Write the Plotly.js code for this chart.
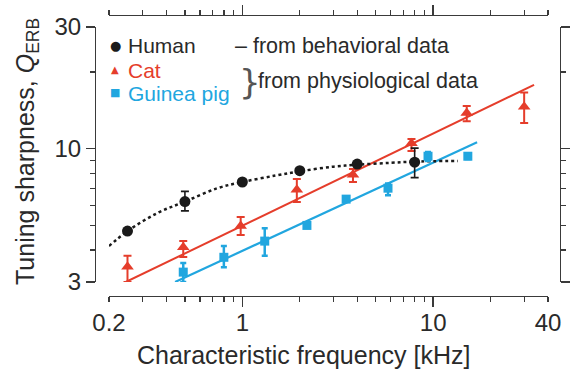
<!DOCTYPE html>
<html><head><meta charset="utf-8">
<script src="https://cdn.plot.ly/plotly-3.0.1.min.js"></script>
<style>html,body{margin:0;padding:0;background:#fff}#c{width:572px;height:373px}</style>
</head><body><div id="c"></div>
<script>
// ---- data ----
const humanF  = [0.25, 0.5, 1, 2, 4, 8];
const humanQ  = [4.75, 6.2, 7.4, 8.2, 8.7, 8.85];
const humanHi = [null, 6.8, null, null, null, 10.05];
const humanLo = [null, 5.7, null, null, null, 7.7];
const humanCurveF = [0.2, 0.25, 0.36, 0.5, 0.74, 1, 1.5, 2, 3, 4, 6, 8, 13.5];
const humanCurveQ = [4.15, 4.75, 5.6, 6.2, 7.0, 7.4, 7.85, 8.15, 8.5, 8.65, 8.8, 8.9, 8.95];

const catF  = [0.25, 0.49, 0.98, 1.93, 3.8, 7.7, 15, 30];
const catQ  = [3.44, 4.11, 4.97, 6.9, 7.9, 10.5, 13.8, 14.6];
const catHi = [3.8, 4.34, 5.4, 7.6, 8.33, 10.9, 14.7, 16.6];
const catLo = [3.0, 3.76, 4.59, 6.18, 7.4, 9.8, 12.8, 12.6];
const catFitF = [0.245, 33.8];
const catFitQ = [3.0, 17.8];

const gpF  = [0.49, 0.8, 1.31, 2.18, 3.5, 5.8, 9.4, 15.2];
const gpQ  = [3.28, 3.75, 4.34, 5.0, 6.34, 7.0, 9.34, 9.34];
const gpHi = [3.56, 4.15, 4.87, 5.12, 6.5, 7.3, 9.7, 9.6];
const gpLo = [3.0, 3.43, 3.8, 4.9, 6.2, 6.57, 8.95, 9.1];
const gpFitF = [0.444, 17];
const gpFitQ = [3.0, 10.6];

const xMajor = [0.2, 1, 10, 40];
const xMajorText = ['0.2', '1', '10', '40'];
const xMinor = [0.3,0.4,0.5,0.6,0.7,0.8,0.9,2,3,4,5,6,7,8,9,20,30];
const xLong = [1, 10];
const yMajor = [3, 10, 30];
const yMajorText = ['3', '10', '30'];
const yMinor = [4,5,6,7,8,9,20];

// ---- styling / layout ----
const W = 572, H = 373;
const px = x => x / W, py = y => 1 - y / H;
const RED = '#e53d2b', BLUE = '#21a6df', BLACK = '#1a1a1a', AX = '#3a3a3a', TXT = '#2a2a2a';
const FONT = 'Liberation Sans, Arial, sans-serif';

function errs(v, hi, lo) {
  return {
    up: v.map((q, i) => hi[i] == null ? null : hi[i] - q),
    dn: v.map((q, i) => lo[i] == null ? null : q - lo[i])
  };
}
const he = errs(humanQ, humanHi, humanLo);
const ce = errs(catQ, catHi, catLo);
const ge = errs(gpQ, gpHi, gpLo);

const data = [
  {x: catFitF, y: catFitQ, mode: 'lines', line: {color: RED, width: 2}, hoverinfo: 'skip'},
  {x: gpFitF, y: gpFitQ, mode: 'lines', line: {color: BLUE, width: 2.2}, hoverinfo: 'skip'},
  {x: humanCurveF, y: humanCurveQ, mode: 'lines', line: {color: BLACK, width: 2.5, dash: 'dot', shape: 'spline'}, hoverinfo: 'skip'},
  {x: catF, y: catQ, mode: 'markers', marker: {symbol: 'triangle-up', size: 11, color: RED},
   error_y: {type: 'data', array: ce.up, arrayminus: ce.dn, color: RED, thickness: 2, width: 4}},
  {x: gpF, y: gpQ, mode: 'markers', marker: {symbol: 'square', size: 9, color: BLUE},
   error_y: {type: 'data', array: ge.up, arrayminus: ge.dn, color: BLUE, thickness: 2.5, width: 3}},
  {x: humanF, y: humanQ, mode: 'markers', marker: {symbol: 'circle', size: 11, color: BLACK},
   error_y: {type: 'data', array: he.up, arrayminus: he.dn, color: BLACK, thickness: 1.6, width: 4}},
  // helper traces so overlay axes get drawn
  {x: [null], y: [null], xaxis: 'x2', yaxis: 'y2', hoverinfo: 'skip', mode: 'markers'},
  {x: [null], y: [null], xaxis: 'x3', yaxis: 'y', hoverinfo: 'skip', mode: 'markers'},
  {x: [null], y: [null], xaxis: 'x4', yaxis: 'y', hoverinfo: 'skip', mode: 'markers'}
];

const xr = [Math.log10(0.2), Math.log10(40)];
const yr = [Math.log10(3), Math.log10(30)];
const xdom = [px(109), px(548)];
const ydom = [py(282), py(27)];
const xBottom = py(296), xTop = py(15);

const baseX = {
  type: 'log', range: xr, domain: xdom, anchor: 'free', showgrid: false, zeroline: false,
  linecolor: AX, linewidth: 1.3, ticks: 'outside', tickcolor: AX, tickwidth: 1.3, ticklen: 5,
  tickmode: 'array', tickvals: xMajor, ticktext: xMajorText,
  minor: {tickmode: 'array', tickvals: xMinor, ticks: 'outside', ticklen: 5, tickcolor: AX, tickwidth: 1.3, showgrid: false},
  tickfont: {family: FONT, size: 24, color: TXT}
};
const longX = {
  type: 'log', range: xr, domain: xdom, anchor: 'free', showgrid: false, zeroline: false, showline: false,
  ticks: 'outside', tickcolor: AX, tickwidth: 1.3, ticklen: 10,
  tickmode: 'array', tickvals: xLong, showticklabels: false
};
const baseY = {
  type: 'log', range: yr, domain: ydom, anchor: 'free', showgrid: false, zeroline: false,
  linecolor: AX, linewidth: 1.3, ticks: 'outside', tickcolor: AX, tickwidth: 1.3, ticklen: 9,
  tickmode: 'array', tickvals: yMajor, ticktext: yMajorText,
  minor: {tickmode: 'array', tickvals: yMinor, ticks: 'outside', ticklen: 5, tickcolor: AX, tickwidth: 1.3, showgrid: false},
  tickfont: {family: FONT, size: 24, color: TXT}
};

const ann = (x, y, text, opts) => Object.assign({xref: 'paper', yref: 'paper', x: px(x), y: py(y),
  text: text, showarrow: false, xanchor: 'left', yanchor: 'middle', font: {family: FONT, size: 21, color: TXT}}, opts || {});

const layout = {
  width: W, height: H, margin: {l: 0, r: 0, t: 0, b: 0}, showlegend: false,
  paper_bgcolor: '#fff', plot_bgcolor: 'rgba(0,0,0,0)',
  xaxis: Object.assign({}, baseX, {position: xBottom, side: 'bottom'}),
  xaxis2: Object.assign({}, baseX, {position: xTop, side: 'top', overlaying: 'x', showticklabels: false}),
  xaxis3: Object.assign({}, longX, {position: xBottom, side: 'bottom', overlaying: 'x'}),
  xaxis4: Object.assign({}, longX, {position: xTop, side: 'top', overlaying: 'x'}),
  yaxis: Object.assign({}, baseY, {position: px(95), side: 'left'}),
  yaxis2: Object.assign({}, baseY, {position: px(560), side: 'right', overlaying: 'y', showticklabels: false}),
  annotations: [
    ann(303, 355, 'Characteristic frequency [kHz]', {xanchor: 'center', font: {family: FONT, size: 25, color: TXT}}),
    ann(27, 152, 'Tuning sharpness, <i>Q</i><sub>ERB</sub>', {xanchor: 'center', textangle: -90, font: {family: FONT, size: 25, color: TXT}}),
    ann(115, 46, '●', {xanchor: 'center', font: {family: 'DejaVu Sans', size: 13, color: BLACK}}),
    ann(115, 69, '▲', {xanchor: 'center', font: {family: 'DejaVu Sans', size: 10, color: RED}}),
    ann(115, 93, '■', {xanchor: 'center', font: {family: 'DejaVu Sans', size: 11, color: BLUE}}),
    ann(126, 46, 'Human', {font: {family: FONT, size: 21, color: TXT}}),
    ann(126, 70, 'Cat', {font: {family: FONT, size: 21, color: RED}}),
    ann(126, 94, 'Guinea pig', {font: {family: FONT, size: 21, color: BLUE}}),
    ann(233, 46, '– from behavioral data', {font: {family: FONT, size: 21.5, color: TXT}}),
    ann(237, 82, '}', {font: {family: 'DejaVu Sans', size: 34, color: '#555'}}),
    ann(256, 81, 'from physiological data', {font: {family: FONT, size: 21.5, color: TXT}})
  ]
};

Plotly.newPlot('c', data, layout, {staticPlot: true, displayModeBar: false});
</script>
</body></html>
